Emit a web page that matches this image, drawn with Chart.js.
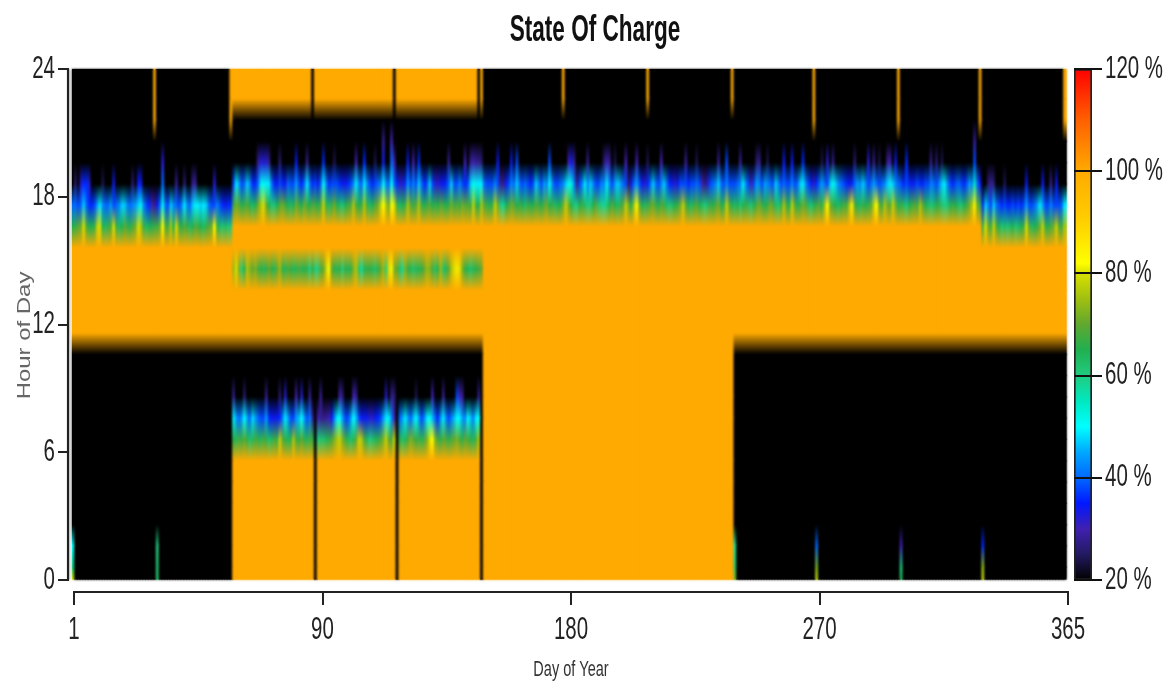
<!DOCTYPE html>
<html>
<head>
<meta charset="utf-8">
<title>State Of Charge</title>
<script src="https://cdn.jsdelivr.net/npm/chart.js@4"></script>
<style>
	html, body { margin: 0; padding: 0; background: #fff; overflow: hidden; }
	#wrap { position: relative; width: 1165px; height: 682px; overflow: hidden; }
	#wrap canvas { position: absolute; top: 0; }
	#heat { left: 0; }
	#bar { left: 1060px; }
</style>
</head>
<body>
<div id="wrap">
	<canvas id="heat" width="1165" height="682"></canvas>
	<canvas id="bar" width="105" height="682"></canvas>
</div>
<script>
// colour scale of the legend, % state of charge
const scaleValues = [20, 25, 30, 35, 40, 45, 50, 55, 60, 65, 70, 75, 80, 82, 90, 100, 110, 120];
const scaleColors = ['#000000', '#221a60', '#4020b0', '#0018ff', '#0068ff', '#00a8ff', '#00ffff', '#00e8c0', '#20cc80',
	'#20b050', '#60a830', '#a0c010', '#d8e000', '#ffff00', '#ffd000', '#ffaa00', '#ff6000', '#ff0000'];

const xTickLabels = ['1', '90', '180', '270', '365'];
const legendTicks = [20, 40, 60, 80, 100, 120];

// heights the hourly samples sit at on the hour axis
const levelHours = [0, 0.6, 1.6, 2.6, 3.6, 4.6, 5.6, 6.6, 7.6, 8.6, 9.6, 10.6, 11.6, 12.6, 13.6, 14.6, 15.6, 16.6, 17.6,
	18.6, 19.6, 20.6, 21.6, 22.6, 23.6, 24];

// first sample above the full battery, evening, one value per day
const duskStep1 = [
	65,67,69,71,80,69,65,65,67,78,
	80,65,63,67,69,80,67,63,65,69,
	67,65,69,71,80,76,67,63,65,65,
	67,67,71,82,69,67,76,65,80,69,
	65,69,67,63,65,69,67,65,63,67,
	69,71,82,67,63,61,63,61,61,67,
	71,69,65,67,69,65,63,65,71,76,
	80,71,65,61,61,65,69,71,67,65,
	63,65,71,67,65,71,67,65,69,67,
	65,69,78,67,63,67,71,65,63,61,
	65,67,69,76,69,65,67,76,67,63,
	65,69,71,78,82,76,71,82,80,67,
	63,65,67,76,69,67,69,76,67,65,
	67,69,65,67,65,69,67,65,67,71,
	67,69,67,71,69,69,67,78,67,65,
	76,69,67,65,67,78,71,60,58,65,
	67,71,69,65,67,65,63,67,65,65,
	69,67,65,69,71,65,67,63,65,65,
	71,78,71,65,61,60,65,67,63,60,
	61,65,69,61,60,58,61,65,69,65,
	63,67,69,78,71,65,76,82,71,65,
	63,67,69,71,67,65,69,67,63,61,
	63,65,67,71,78,69,65,63,67,69,
	65,63,60,63,67,65,69,71,65,67,
	78,69,65,63,65,61,65,67,63,61,
	65,69,71,67,65,67,71,69,63,61,
	67,76,67,65,78,69,65,67,71,69,
	63,61,65,67,69,65,76,82,71,67,
	65,63,65,69,67,76,84,69,65,63,
	67,65,67,69,78,82,71,67,76,71,
	69,78,71,65,67,63,61,65,67,69,
	67,76,69,65,63,61,63,65,67,61,
	60,61,65,67,65,63,61,65,67,71,
	76,84,71,67,67,80,71,67,78,69,
	65,61,63,61,63,65,61,63,65,67,
	80,69,63,65,67,71,78,67,65,69,
	71,78,69,67,76];

// second sample, the blue to cyan part of the evening band
const duskStep2 = [
	40,40,38,40,47,40,36,36,38,44,
	49,42,40,40,44,38,40,42,47,47,
	42,40,42,44,47,51,42,38,36,30,
	28,34,40,51,40,38,47,42,40,38,
	42,49,42,40,47,49,49,47,49,47,
	40,38,38,42,38,36,34,36,36,38,
	49,44,38,40,47,42,36,36,40,49,
	51,49,49,40,36,34,38,36,34,40,
	38,38,44,38,36,40,49,40,36,38,
	34,40,51,42,36,38,38,38,36,34,
	34,36,38,42,49,42,40,49,42,38,
	36,38,40,42,51,42,40,51,40,36,
	32,32,36,44,38,42,38,47,40,36,
	38,47,38,32,32,34,34,36,40,47,
	38,38,42,38,36,38,47,51,49,49,
	49,40,38,38,38,42,38,28,28,34,
	38,42,40,47,40,38,40,38,36,38,
	47,42,38,44,42,51,42,38,38,40,
	42,47,51,53,42,28,38,42,49,42,
	47,42,38,38,42,42,49,42,38,44,
	47,44,40,38,26,34,40,44,38,34,
	32,36,40,47,40,38,42,47,40,36,
	34,32,34,38,38,38,36,38,38,40,
	38,30,27,32,38,40,42,47,40,38,
	42,38,38,38,40,42,49,42,38,30,
	38,44,42,38,44,42,40,38,47,42,
	38,40,38,38,42,38,40,47,49,42,
	38,34,32,36,40,44,40,38,47,51,
	47,42,40,38,36,34,36,40,44,42,
	47,42,38,40,44,40,38,40,42,47,
	49,47,42,40,38,36,38,36,34,36,
	38,36,36,38,38,42,40,38,42,47,
	49,42,38,36,38,40,38,36,38,44,
	42,55,40,34,36,47,42,38,47,40,
	38,36,38,36,36,38,36,38,36,38,
	44,38,38,40,44,49,44,38,38,42,
	38,38,38,40,49];

// days whose evening band reaches one sample higher, the rest are empty there
const duskStep3Days = [2,4,5,6,7,12,16,23,25,26,34,39,42,45,46,53,
	69,70,71,72,73,77,83,87,93,97,105,108,112,115,118,119,
	124,126,128,139,145,147,148,149,150,151,157,162,164,176,183,184,185,190,196,197,198,200,204,208,212,217,226,230,238,241,246,252,253,256,
	262,265,269,276,278,280,288,293,295,297,300,301,303,307,316,318,320,332,
	337,338,339,343,351,357,360,362];
const duskStep3Values = [26,32,36,36,32,24,34,26,34,34,40,28,26,28,28,32,
	28,32,32,32,28,26,34,28,36,24,30,36,24,34,40,30,
	34,30,36,28,30,28,30,28,28,26,34,34,38,38,30,34,28,28,26,30,28,24,30,30,24,30,28,24,28,38,28,26,28,24,
	34,34,36,24,32,28,26,32,28,24,28,30,34,36,28,26,24,38,
	26,28,26,24,34,34,28,34];
const duskStep4Days = [34, 115, 118, 332];
const duskStep4Values = [32, 28, 30, 28];

// morning band, days 60 to 150
const morningStep1 = [
	66,64,68,66,70,66,62,64,68,66,
	64,68,66,62,64,68,66,78,70,66,
	64,66,76,68,66,70,66,64,68,66,
	20,60,62,62,64,66,68,72,76,78,
	72,68,64,62,64,70,78,76,68,64,
	60,62,64,66,68,72,78,70,68,78,
	20,66,62,64,68,72,70,66,68,64,
	68,72,80,82,72,68,66,70,68,66,
	68,70,72,68,66,70,68,66,64,68,76];
const morningStep2 = [
	49,44,40,44,50,44,40,48,44,40,
	38,38,44,36,34,34,34,36,42,49,
	44,38,38,44,46,50,44,38,42,28,
	20,30,28,28,28,30,34,42,49,50,
	44,38,38,44,50,46,38,34,34,34,
	32,32,34,36,38,44,49,49,42,30,
	20,40,44,49,44,40,46,50,44,38,
	42,49,50,46,40,36,44,49,42,38,
	42,46,50,49,44,42,50,46,42,49,50];
const morningStep3Days = [60,64,72,77,79,83,85,88,92,99,100,104,105,116,118,119,127,133,137,142,143,144,150];
const morningStep3Values = [28,26,28,26,32,30,32,28,28,30,26,30,28,32,28,26,24,30,28,38,30,28,28];

// afternoon dip, days 60 to 151
const middayBand = [
	74,80,72,60,66,76,72,70,72,68,
	66,64,66,70,66,64,70,74,66,64,
	68,66,64,64,68,64,66,64,60,66,
	60,60,68,70,78,82,70,66,64,66,
	60,66,64,66,72,76,62,58,64,66,
	66,64,62,66,70,74,60,80,84,72,
	70,62,58,72,66,64,62,64,64,66,
	70,74,72,68,62,66,74,62,64,70,
	76,80,86,80,72,66,64,62,64,66,68,70];

// days that reach full charge late in the evening
const lateFullDays = [31, 59, 151, 181, 212, 243, 273, 304, 334, 365];
const lateFullHours = [21.6, 21.6, 22.6, 22.6, 22.6, 22.6, 21.6, 21.6, 21.6, 21.6];
// the short discharge just after midnight on the following days
const afterMidnightDays = [1, 32, 244, 274, 305, 335];
const afterMidnight0 = [80, 62, 72, 78, 64, 78];
const afterMidnight1 = [60, 62, 62, 72, 60, 74];
const afterMidnight2 = [50, 60, 58, 40, 30, 36];
// days with an empty battery inside the spring block
const emptyNightDays = [90, 120, 151];
const emptyLateDays = [89, 119, 150];

const days = [];
for (let d = 1; d <= 365; d++) days.push(d);

const lv = h => levelHours.indexOf(h);

// one column of samples for a day
function dayColumn(day) {
	const col = levelHours.map(() => 20);
	const i = day - 1;
	const spring = day >= 60 && day <= 151;
	const summer = day >= 152 && day <= 243;
	const start = (day < 60 || day >= 335) ? lv(15.6) : lv(16.6);

	if (summer) for (let l = 0; l <= lv(10.6); l++) col[l] = 100;
	if (spring) for (let l = 0; l <= lv(5.6); l++) col[l] = 100;
	for (let l = lv(11.6); l <= start; l++) col[l] = 100;

	col[start + 1] = duskStep1[i];
	col[start + 2] = duskStep2[i];
	let k = duskStep3Days.indexOf(day);
	if (k >= 0) col[start + 3] = duskStep3Values[k];
	k = duskStep4Days.indexOf(day);
	if (k >= 0) col[start + 4] = duskStep4Values[k];

	if (spring) {
		col[lv(14.6)] = middayBand[day - 60];
		if (day <= 150) {
			col[lv(6.6)] = morningStep1[day - 60];
			col[lv(7.6)] = morningStep2[day - 60];
		}
		k = morningStep3Days.indexOf(day);
		if (k >= 0) col[lv(8.6)] = morningStep3Values[k];
	}
	if (day >= 60 && day <= 149 && !emptyLateDays.includes(day)) {
		for (let l = lv(22.6); l < col.length; l++) col[l] = 100;
	}
	k = lateFullDays.indexOf(day);
	if (k >= 0) for (let l = lv(lateFullHours[k]); l < col.length; l++) col[l] = 100;
	k = afterMidnightDays.indexOf(day);
	if (k >= 0) {
		col[0] = afterMidnight0[k];
		col[1] = afterMidnight1[k];
		col[2] = afterMidnight2[k];
	}
	if (emptyNightDays.includes(day)) for (let l = 0; l <= lv(7.6); l++) col[l] = 20;
	return col;
}
const socGrid = days.map(dayColumn);

function hexToRgb(hex) {
	return [1, 3, 5].map(p => parseInt(hex.substr(p, 2), 16));
}

function colorFor(v) {
	let s = 0;
	while (s < scaleValues.length - 2 && v > scaleValues[s + 1]) s++;
	const t = Math.min(1, Math.max(0, (v - scaleValues[s]) / (scaleValues[s + 1] - scaleValues[s])));
	const a = hexToRgb(scaleColors[s]), b = hexToRgb(scaleColors[s + 1]);
	return 'rgb(' + a.map((c, n) => Math.round(c + (b[n] - c) * t)).join(',') + ')';
}

// each cell fades from its lower sample to its upper sample
function cellFill(ctx) {
	if (ctx.dataIndex === undefined) return '#000';
	const col = socGrid[ctx.dataIndex];
	const level = ctx.datasetIndex;
	const low = col[level], high = col[level + 1];
	if (low === high) return colorFor(low);
	const y = ctx.chart.scales.y;
	const y0 = y.getPixelForValue(levelHours[level]), y1 = y.getPixelForValue(levelHours[level + 1]);
	// options also get resolved once before the scale has its size
	if (!isFinite(y0) || !isFinite(y1)) return colorFor(low);
	const g = ctx.chart.ctx.createLinearGradient(0, y0, 0, y1);
	g.addColorStop(0, colorFor(low));
	g.addColorStop(1, colorFor(high));
	return g;
}

const rows = [];
for (let l = 0; l < levelHours.length - 1; l++) {
	rows.push({
		data: days.map(() => [levelHours[l], levelHours[l + 1]]),
		backgroundColor: cellFill,
		borderWidth: 0,
		inflateAmount: 0.6,
		barPercentage: 1,
		categoryPercentage: 1,
		grouped: false
	});
}

// the reference type is a tall squeezed face, no such font here
function squeezeText(canvas, widthFor) {
	const ctx = canvas.getContext('2d');
	const fill = ctx.fillText;
	ctx.fillText = function (text, x, y) {
		const w = widthFor(text);
		this.save();
		this.translate(x + (w.shift || 0), y);
		this.scale(w.scale, 1);
		fill.call(this, text, 0, 0);
		this.restore();
	};
}

squeezeText(document.getElementById('heat'), t => {
	if (t === 'Hour of Day') return { scale: 1.33, shift: -11 };
	if (t === 'State Of Charge') return { scale: 0.61 };
	return { scale: 0.66 };
});
squeezeText(document.getElementById('bar'), () => ({ scale: 0.66 }));

// plot, axis and title are not lined up with each other in the reference
const placePlugin = {
	id: 'place',
	afterLayout(chart) {
		const x = chart.scales.x, x2 = chart.scales.x2;
		x.left = 72;
		x.right = 1066.5;
		x.configure();
		x2.left = 74;
		x2.right = 1068;
		x2.configure();
		chart.titleBlock.left = 0;
		chart.titleBlock.right = 1190;
	}
};

// the original picture is a smoothed bitmap
const softenPlugin = {
	id: 'soften',
	afterDatasetsDraw(chart) {
		const a = chart.chartArea, ctx = chart.ctx;
		ctx.save();
		ctx.filter = 'blur(0.8px)';
		ctx.drawImage(ctx.canvas, a.left, a.top, a.width, a.height, a.left, a.top, a.width, a.height);
		ctx.restore();
	}
};

const tickFont = { family: 'Liberation Sans', size: 31 };

new Chart(document.getElementById('heat'), {
	type: 'bar',
	data: { labels: days, datasets: rows },
	plugins: [placePlugin, softenPlugin],
	options: {
		responsive: false,
		devicePixelRatio: 1,
		animation: false,
		events: [],
		layout: { padding: { left: 0, top: 0, right: 97, bottom: 102 } },
		plugins: {
			legend: { display: false },
			tooltip: { enabled: false },
			title: {
				display: true,
				text: 'State Of Charge',
				color: '#111',
				font: { family: 'Liberation Sans', size: 37, weight: 'bold' },
				padding: { top: 9, bottom: 15.6 }
			}
		},
		scales: {
			x: {
				type: 'category',
				display: false,
				position: { y: 0 },
				offset: true
			},
			x2: {
				type: 'linear',
				axis: 'x',
				position: { y: -0.565 },
				min: 0,
				max: 4,
				offset: false,
				afterBuildTicks: s => { s.ticks = xTickLabels.map((t, n) => ({ value: n })); },
				border: { display: true, color: '#222', width: 2 },
				grid: { drawOnChartArea: false, offset: false, color: '#222', lineWidth: 2, tickLength: 12 },
				ticks: {
					color: '#222',
					font: tickFont,
					padding: 8,
					maxRotation: 0,
					autoSkip: false,
					callback: v => xTickLabels[v]
				},
				title: {
					display: true,
					text: 'Day of Year',
					color: '#333',
					font: { family: 'Liberation Sans', size: 22 },
					padding: { top: 0, bottom: 0 }
				}
			},
			y: {
				min: 0,
				max: 24,
				afterFit: s => { s.width = 68; },
				border: { display: true, color: '#222', width: 2 },
				grid: { drawOnChartArea: false, color: '#222', lineWidth: 2, tickLength: 10 },
				ticks: { stepSize: 6, color: '#222', font: tickFont, padding: 3 },
				title: {
					display: true,
					text: 'Hour of Day',
					color: '#666',
					font: { family: 'Liberation Sans', size: 18 },
					padding: { top: 14, bottom: 0 }
				}
			}
		}
	}
});

function legendFill(ctx) {
	const y = ctx.chart.scales.y;
	if (!y) return '#000';
	const y0 = y.getPixelForValue(20), y1 = y.getPixelForValue(120);
	if (!isFinite(y0) || !isFinite(y1)) return '#000';
	const g = ctx.chart.ctx.createLinearGradient(0, y0, 0, y1);
	scaleValues.forEach((v, n) => g.addColorStop((v - 20) / 100, scaleColors[n]));
	return g;
}

new Chart(document.getElementById('bar'), {
	type: 'bar',
	data: {
		labels: ['State Of Charge'],
		datasets: [{
			data: [[legendTicks[0], legendTicks[legendTicks.length - 1]]],
			backgroundColor: legendFill,
			borderColor: '#222',
			borderWidth: 2,
			borderSkipped: false,
			barPercentage: 1,
			categoryPercentage: 1
		}]
	},
	options: {
		responsive: false,
		devicePixelRatio: 1,
		animation: false,
		events: [],
		layout: { padding: { left: 14, top: 69, right: 0, bottom: 102 } },
		plugins: { legend: { display: false }, tooltip: { enabled: false } },
		scales: {
			x: { display: false },
			y: {
				position: 'right',
				min: 20,
				max: 120,
				afterFit: s => { s.width = 73; },
				afterBuildTicks: s => { s.ticks = legendTicks.map(v => ({ value: v })); },
				border: { display: false },
				grid: { color: '#111', lineWidth: 2, tickLength: 10, z: 1 },
				ticks: { color: '#222', font: tickFont, padding: 3, callback: v => v + ' %' }
			}
		}
	}
});
</script>
</body>
</html>
